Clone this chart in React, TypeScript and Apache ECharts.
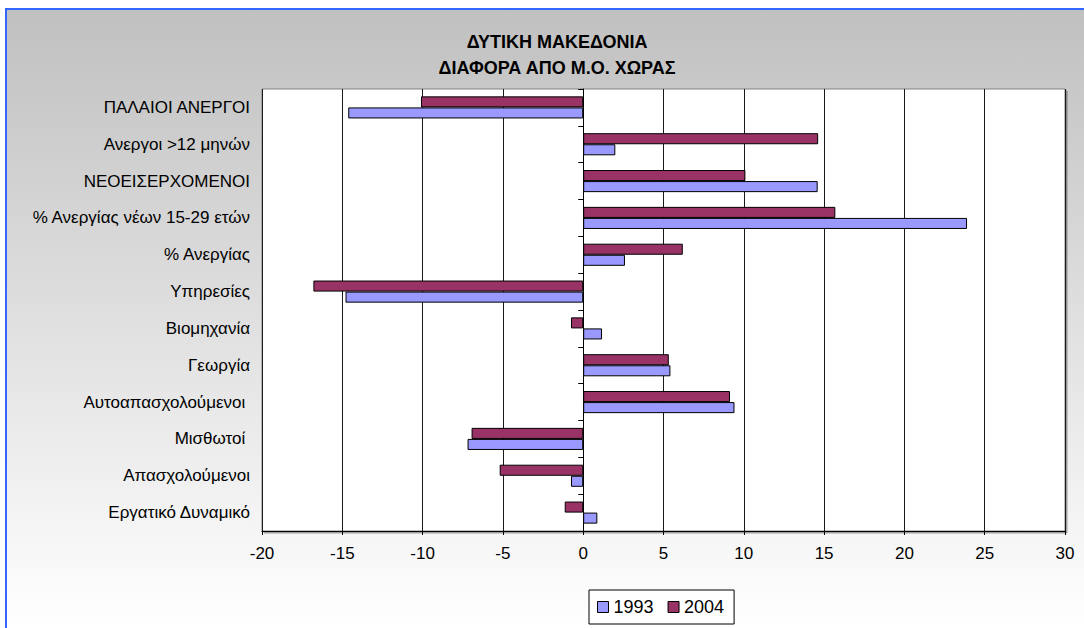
import React, { useEffect, useRef } from "react";
import * as echarts from "echarts";

const categories = [
  "Εργατικό Δυναμικό",
  "Απασχολούμενοι",
  "Μισθωτοί ",
  "Αυτοαπασχολούμενοι ",
  "Γεωργία",
  "Βιομηχανία",
  "Υπηρεσίες",
  "% Ανεργίας",
  "% Ανεργίας νέων 15-29 ετών",
  "ΝΕΟΕΙΣΕΡΧΟΜΕΝΟΙ",
  "Ανεργοι >12 μηνών",
  "ΠΑΛΑΙΟΙ ΑΝΕΡΓΟΙ",
];
const values1993 = [0.88, -0.76, -7.2, 9.42, 5.43, 1.17, -14.8, 2.6, 23.9, 14.6, 2.0, -14.63];
const values2004 = [-1.15, -5.2, -6.95, 9.14, 5.33, -0.76, -16.8, 6.2, 15.7, 10.1, 14.63, -10.1];
const seriesNames = ["1993", "2004"];
const titleLines = ["ΔΥΤΙΚΗ ΜΑΚΕΔΟΝΙΑ", "ΔΙΑΦΟΡΑ ΑΠΟ Μ.Ο. ΧΩΡΑΣ"];
const xMin = -20;
const xMax = 30;
const xStep = 5;

const FONT = "'Liberation Sans', Arial, sans-serif";

export default function App() {
  const ref = useRef<HTMLDivElement>(null);
  useEffect(() => {
    if (!ref.current) return;
    const chart = echarts.init(ref.current, undefined, { renderer: "svg" });
    chart.setOption({
      animation: false,
      backgroundColor: "#ffffff",
      textStyle: { fontFamily: FONT },
      graphic: [
        {
          type: "rect",
          z: -10,
          silent: true,
          shape: { x: 6, y: 9, width: 1078, height: 619 },
          style: {
            fill: new echarts.graphic.LinearGradient(0, 0, 0, 1, [
              { offset: 0, color: "#c0c0c0" },
              { offset: 1, color: "#ffffff" },
            ]),
          },
        },
        {
          type: "line",
          z: -9,
          silent: true,
          shape: { x1: 5, y1: 9, x2: 1084, y2: 9 },
          style: { stroke: "#3366ff", lineWidth: 2 },
        },
        {
          type: "line",
          z: -9,
          silent: true,
          shape: { x1: 6, y1: 8, x2: 6, y2: 628 },
          style: { stroke: "#3366ff", lineWidth: 2 },
        },
      ],
      title: {
        text: titleLines.join("\n"),
        left: 552,
        top: 24,
        textAlign: "center",
        textStyle: {
          fontFamily: FONT,
          fontSize: 18,
          fontWeight: "bold",
          color: "#000",
          lineHeight: 26,
        },
      },
      legend: {
        data: seriesNames,
        left: 589,
        top: 590,
        orient: "horizontal",
        backgroundColor: "#ffffff",
        borderColor: "#000000",
        borderWidth: 1,
        borderRadius: 0,
        padding: [8, 10, 8, 8],
        itemWidth: 11,
        itemHeight: 11,
        itemGap: 14,
        icon: "rect",
        itemStyle: { borderColor: "#000", borderWidth: 1 },
        textStyle: { fontFamily: FONT, fontSize: 18, color: "#000" },
      },
      grid: {
        left: 262,
        right: 19,
        top: 89,
        bottom: 97,
        show: true,
        backgroundColor: "#ffffff",
        borderColor: "#808080",
        borderWidth: 1,
        shadowColor: "rgba(0,0,0,0.35)",
        shadowOffsetX: 2,
        shadowOffsetY: 2,
        shadowBlur: 0,
      },
      xAxis: {
        type: "value",
        min: xMin,
        max: xMax,
        interval: xStep,
        axisLine: { show: true, onZero: false, lineStyle: { color: "#000", width: 1 } },
        axisTick: { show: true, length: 4, lineStyle: { color: "#000" } },
        axisLabel: { fontFamily: FONT, fontSize: 17, color: "#000", margin: 14 },
        splitLine: { show: true, lineStyle: { color: "#1a1a1a", width: 1 } },
      },
      yAxis: [
        {
          type: "category",
          data: categories,
          position: "left",
          axisLine: { show: false, onZero: false },
          axisTick: { show: false },
          axisLabel: { fontFamily: FONT, fontSize: 17, color: "#000", margin: 12 },
          splitLine: { show: false },
        },
        {
          type: "category",
          data: categories,
          position: "left",
          axisLine: { show: true, onZero: true, lineStyle: { color: "#000", width: 1 } },
          axisTick: { show: true, length: 5, lineStyle: { color: "#000" } },
          axisLabel: { show: false },
          splitLine: { show: false },
        },
      ],
      series: [
        {
          name: "2004",
          type: "bar",
          yAxisIndex: 0,
          data: values2004,
          barGap: "0%",
          barCategoryGap: "40%",
          itemStyle: { color: "#993366", borderColor: "#000", borderWidth: 1 },
        },
        {
          name: "1993",
          type: "bar",
          yAxisIndex: 0,
          data: values1993,
          barGap: "0%",
          barCategoryGap: "40%",
          itemStyle: { color: "#9999ff", borderColor: "#000", borderWidth: 1 },
        },
      ],
    });
    return () => chart.dispose();
  }, []);
  return (
    <div
      ref={ref}
      style={{ position: "fixed", left: 0, top: 0, width: 1084, height: 628 }}
    />
  );
}
